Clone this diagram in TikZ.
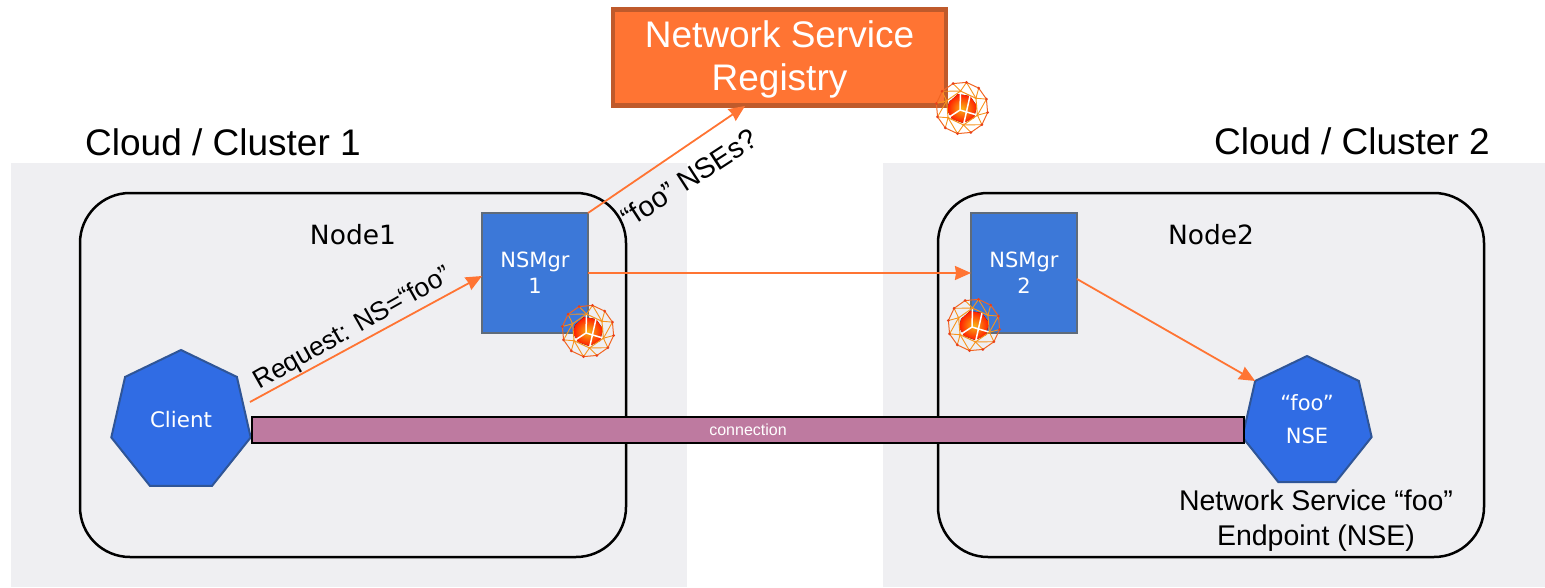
\documentclass[tikz,border=0pt]{standalone}
\usepackage{fontspec}
\setmainfont{Liberation Sans}
\newfontfamily\calfont{DejaVu Sans}
\usetikzlibrary{arrows.meta,shapes.geometric,calc}
\definecolor{bgray}{HTML}{EFEFF2}
\definecolor{nsorange}{HTML}{FF7433}
\definecolor{nsdark}{HTML}{BF5A2B}
\definecolor{mgrblue}{HTML}{3C78D8}
\definecolor{mgredge}{HTML}{5F6B7A}
\definecolor{hepblue}{HTML}{306CE4}
\definecolor{hepedge}{HTML}{2F5597}
\definecolor{connfill}{HTML}{BE7AA0}
\definecolor{wirea}{HTML}{F7941D}
\definecolor{wireb}{HTML}{F26522}
\definecolor{wiredot}{HTML}{E8401C}
\tikzset{
  cluster/.style={fill=bgray,draw=none},
  hostbox/.style={draw=black,line width=2.5pt,rounded corners=50pt,fill=none},
  mgrbox/.style={draw=mgredge,line width=2pt,fill=mgrblue,text=white,font=\calfont\fontsize{21}{26}\selectfont,align=center,inner sep=0pt,outer sep=0pt,minimum width=106pt,minimum height=120pt},
  hept/.style={regular polygon,regular polygon sides=7,draw=hepedge,line width=2pt,fill=hepblue,text=white,inner sep=0pt,outer sep=0pt,align=center},
  flow/.style={draw=nsorange,line width=1.8pt,-{Stealth[length=16pt,width=14pt,inset=1pt]}},
  bigtxt/.style={font=\fontsize{37}{44}\selectfont,inner sep=0pt},
  midtxt/.style={font=\fontsize{28.5}{35}\selectfont,inner sep=0pt,align=center},
  hosttxt/.style={font=\calfont\fontsize{26.5}{30}\selectfont,inner sep=0pt},
  geosphere/.pic={
    \fill[inner color=wirea!70!yellow,outer color=red!80!orange] (-13,-6) -- (-4,-14) -- (8,-12) -- (15,-2) -- (12,10) -- (1,15) -- (-10,11) -- (-15,2) -- cycle;
    \foreach \i in {0,...,11}{
      \coordinate (o\i) at ({26*cos(\i*30+10)},{26*sin(\i*30+10)});
    }
    \foreach \i in {0,...,5}{
      \coordinate (m\i) at ({17*cos(\i*60+25)},{17*sin(\i*60+25)});
    }
    \draw[white,line width=1.5pt] (m0) -- (-2,2) -- (m2) (-2,2) -- (m4) (m1) -- (8,-12);
    \draw[wireb,line width=1pt,line join=round] (o0) -- (o1) -- (o2) -- (o3) -- (o4) -- (o5) -- (o6) -- (o7) -- (o8) -- (o9) -- (o10) -- (o11) -- cycle;
    \draw[wirea,line width=1pt,line join=round] (m0) -- (m1) -- (m2) -- (m3) -- (m4) -- (m5) -- cycle;
    \foreach \m/\p in {0/0,0/1,1/2,1/3,2/4,2/5,3/6,3/7,4/8,4/9,5/10,5/11,0/11,1/1,2/3,3/5,4/7,5/9}{
      \draw[wirea,line width=.9pt] (m\m) -- (o\p);
    }
    \foreach \i in {0,...,11}{\fill[wiredot] (o\i) circle (1.5);}
    \foreach \i in {0,...,5}{\fill[wirea] (m\i) circle (1.2);}
  }
}
\begin{document}
\begin{tikzpicture}[x=1pt,y=-1pt]
\useasboundingbox (0,0) rectangle (1545,587);
% clusters
\fill[cluster] (11,163) rectangle (687,587);
\fill[cluster] (883,163) rectangle (1545,587);
\node[bigtxt,anchor=base] (c1) at (223,155) {Cloud / Cluster 1};
\node[bigtxt,anchor=base] (c2) at (1352,154) {Cloud / Cluster 2};
% hosts
\draw[hostbox] (80,193) rectangle (626,557);
\draw[hostbox] (938,193) rectangle (1484,557);
\node[hosttxt] (n1) at (353,235) {Node1};
\node[hosttxt] (n2) at (1211,235) {Node2};
% registry
\node[draw=nsdark,line width=4.5pt,fill=nsorange,text=white,font=\fontsize{37}{43}\selectfont,align=center,inner sep=0pt,outer sep=0pt,minimum width=333pt,minimum height=96pt] (reg) at (779.5,57.5) {\\[-12pt]Network Service\\Registry};
% managers
\node[mgrbox] (nsm1) at (535,273) {NSMgr\\1};
\node[mgrbox] (nsm2) at (1024,273) {NSMgr\\2};
% endpoints
\node[hept,minimum size=143pt,font=\calfont\fontsize{21.4}{28}\selectfont] (client) at (181,421.5) {Client\\[-24pt]};
\node[hept,minimum size=132.6pt,font=\calfont\fontsize{21}{33}\selectfont] (nse) at (1307,422.3) {“foo”\\NSE\\[-27pt]};
% connection
\node[draw=black,line width=1.6pt,fill=connfill,text=white,font=\fontsize{16}{18}\selectfont,inner sep=0pt,outer sep=0pt,minimum width=992pt,minimum height=26pt] (conn) at (748,430) {connection};
% connector ends
\coordinate (reqstart) at (250,402);
\coordinate (reqend) at (482,276);
\coordinate (qstart) at (588,213);
\coordinate (qend) at (745,106);
\coordinate (m2start) at (1077,279);
% arrows
\draw[flow] (reqstart) -- (reqend);
\draw[flow] (qstart) -- (qend);
\draw[flow] (nsm1.east) -- (nsm2.west);
\draw[flow] (m2start) -- (nse.corner 2);
% rotated labels
\node[midtxt,rotate=29.5,font=\fontsize{26.5}{35}\selectfont] (l1) at (353,329) {Request: NS=“foo”};
\node[midtxt,rotate=33] (l2) at (689,178) {“foo” NSEs?};
\node[midtxt,anchor=north,font=\fontsize{28.5}{35}\selectfont] (nsel) at (1316,490) {Network Service “foo”\\Endpoint (NSE)};
% spheres
\pic at (962,108) {geosphere};
\pic at (588,331) {geosphere};
\pic at (974,325) {geosphere};
\end{tikzpicture}
\end{document}
